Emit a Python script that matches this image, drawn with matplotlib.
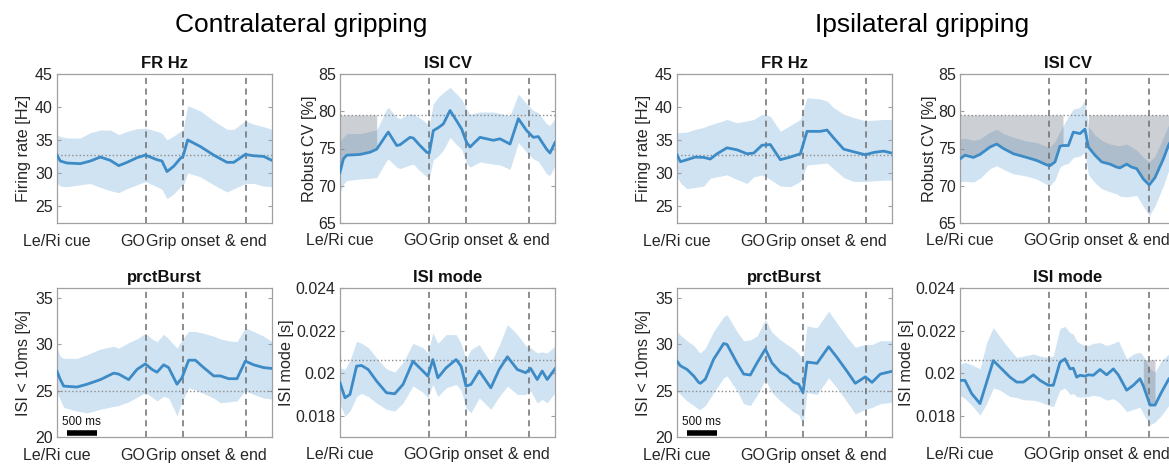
import numpy as np
import matplotlib
matplotlib.use('Agg')
import matplotlib.pyplot as plt

plt.rcParams['font.family'] = ['Liberation Sans', 'DejaVu Sans']

### EVENTS (ms) AND REFERENCE LEVELS
GO = 1475
GRIP = 2095
END = 3145
XMAX = 3580
event_labels = ['Le/Ri cue', 'GO', 'Grip onset', '& end']
ref_fr = 32.7
ref_cv = 79.5
ref_burst = 25.0
ref_mode = 0.02063

### CONTRALATERAL - FR Hz
fr_c_x = [0, 55, 167, 389, 555, 722, 888, 1027, 1166, 1332, 1471, 1665, 1748, 1832, 1943, 2054, 2098,
          2176, 2387, 2609, 2831, 2942, 3136, 3275, 3441, 3580]
fr_c_mean = [32.7, 31.8, 31.5, 31.4, 31.8, 32.4, 31.9, 31.1, 31.6, 32.3, 32.7, 32.0, 31.8, 30.2, 31.0, 32.2,
             32.5, 35.0, 34.0, 32.7, 31.6, 31.6, 32.8, 32.6, 32.5, 31.9]
fr_c_hi = [35.8, 35.5, 35.3, 35.3, 36.1, 36.5, 36.5, 35.8, 36.3, 36.7, 36.8, 36.3, 36.0, 35.0, 35.6, 36.3,
           36.5, 40.2, 39.4, 37.9, 36.6, 36.6, 37.9, 37.4, 37.0, 36.6]
fr_c_lo = [28.4, 28.0, 27.9, 28.2, 28.4, 27.8, 27.3, 27.0, 27.6, 28.2, 28.7, 27.9, 27.5, 26.1, 26.8, 27.9,
           28.0, 30.0, 29.4, 28.2, 27.1, 27.6, 28.4, 28.4, 28.0, 27.9]

### CONTRALATERAL - ISI CV
cv_c_x = [0, 56, 111, 333, 500, 611, 777, 805, 944, 999, 1166, 1221, 1332, 1443, 1487, 1554, 1637, 1721,
          1832, 1943, 2026, 2109, 2165, 2331, 2553, 2664, 2831, 2970, 3108, 3219, 3302, 3441, 3497, 3580]
cv_c_mean = [71.8, 73.6, 74.1, 74.2, 74.5, 74.9, 76.9, 77.2, 75.4, 75.5, 76.5, 76.4, 75.4, 74.5, 74.4, 77.4,
             77.8, 78.3, 80.1, 78.7, 77.6, 75.8, 75.2, 76.5, 76.1, 76.3, 75.6, 79.0, 77.4, 76.5, 76.6, 74.9,
             74.4, 75.8]
cv_c_hi = [76.0, 76.5, 77.0, 77.0, 77.3, 77.5, 80.3, 80.5, 79.2, 79.0, 79.7, 79.6, 79.1, 78.4, 78.2, 81.0,
           81.9, 82.5, 83.2, 82.3, 81.6, 80.3, 79.6, 79.9, 79.9, 79.7, 79.4, 82.3, 81.0, 80.1, 79.8, 78.3,
           78.1, 79.0]
cv_c_lo = [69.1, 70.2, 70.7, 70.9, 71.0, 71.1, 73.4, 73.6, 72.5, 72.3, 72.8, 72.9, 72.0, 71.2, 71.1, 73.5,
           74.0, 74.8, 76.5, 75.5, 74.9, 73.0, 72.5, 73.2, 72.9, 72.8, 72.2, 75.8, 74.5, 73.6, 73.3, 71.6,
           71.4, 72.7]
cv_c_sig = [(0, 611)]

### CONTRALATERAL - prctBurst
bu_c_x = [0, 56, 111, 333, 500, 722, 944, 1027, 1193, 1332, 1471, 1582, 1665, 1776, 1859, 1998, 2081, 2192,
          2303, 2442, 2609, 2720, 2858, 2997, 3136, 3275, 3441, 3580]
bu_c_mean = [27.1, 26.2, 25.5, 25.4, 25.7, 26.2, 26.9, 26.8, 26.2, 27.3, 27.9, 27.3, 27.0, 27.8, 27.5, 25.7,
             26.4, 28.3, 28.3, 27.5, 26.6, 26.6, 26.3, 26.3, 28.2, 27.8, 27.5, 27.4]
bu_c_hi = [29.6, 28.7, 28.5, 28.5, 28.9, 29.5, 29.8, 29.6, 30.2, 30.6, 31.2, 30.6, 30.3, 31.1, 30.6, 29.6,
           30.5, 31.4, 31.4, 31.2, 30.9, 30.6, 30.4, 30.3, 31.8, 31.4, 30.9, 30.3]
bu_c_lo = [24.8, 24.0, 23.2, 22.8, 22.6, 23.0, 23.3, 23.4, 23.8, 24.3, 24.8, 24.3, 23.9, 24.4, 24.2, 22.3,
           23.8, 25.3, 25.1, 24.7, 24.2, 23.7, 23.8, 23.9, 25.0, 24.6, 24.2, 24.1]

### CONTRALATERAL - ISI mode
mo_c_x = [0, 83, 166, 276, 359, 470, 608, 773, 911, 1049, 1215, 1380, 1463, 1546, 1629, 1767, 1933, 2016,
          2098, 2181, 2319, 2512, 2650, 2788, 2953, 3091, 3174, 3284, 3367, 3450, 3580]
mo_c_mean = [0.01955, 0.01884, 0.0190, 0.02033, 0.02036, 0.02017, 0.01963, 0.01908, 0.01903, 0.01947,
             0.02056, 0.0201, 0.01986, 0.02064, 0.01978, 0.02025, 0.02064, 0.02033, 0.01939, 0.01947, 0.0201,
             0.01931, 0.02017, 0.02077, 0.02017, 0.02002, 0.02022, 0.0197, 0.0201, 0.0197, 0.0202]
mo_c_hi = [0.02025, 0.02017, 0.0206, 0.0215, 0.0214, 0.0212, 0.02072, 0.0202, 0.02005, 0.0205, 0.0214,
           0.0212, 0.02095, 0.0219, 0.0214, 0.02181, 0.02181, 0.0214, 0.02064, 0.02111, 0.02134, 0.02048,
           0.0213, 0.02228, 0.02181, 0.0213, 0.02119, 0.02095, 0.021, 0.02095, 0.02127]
mo_c_lo = [0.01853, 0.01798, 0.01822, 0.0189, 0.01905, 0.0189, 0.0186, 0.0183, 0.01822, 0.0186, 0.0194,
           0.0191, 0.01884, 0.01947, 0.0189, 0.01931, 0.01947, 0.0192, 0.01837, 0.01814, 0.01884, 0.0183,
           0.0189, 0.01939, 0.019, 0.019, 0.01916, 0.0186, 0.01877, 0.0186, 0.01908]

### IPSILATERAL - FR Hz
fr_i_x = [0, 56, 167, 305, 444, 555, 666, 833, 999, 1166, 1277, 1415, 1554, 1721, 1887, 2054, 2165, 2387,
          2498, 2609, 2775, 2942, 3136, 3275, 3441, 3580]
fr_i_mean = [32.75, 31.7, 32.0, 32.4, 32.35, 32.1, 32.9, 33.8, 33.5, 32.9, 33.0, 34.2, 34.3, 32.0, 32.4,
             32.9, 36.3, 36.3, 36.5, 35.3, 33.6, 33.2, 32.75, 33.1, 33.3, 33.0]
fr_i_hi = [36.1, 36.1, 36.2, 36.6, 36.9, 37.3, 37.6, 38.1, 37.6, 37.9, 38.1, 38.9, 38.6, 36.3, 37.2, 38.1,
           41.4, 41.2, 40.9, 39.9, 38.9, 38.4, 37.9, 38.0, 38.1, 38.1]
fr_i_lo = [29.4, 28.5, 27.6, 27.8, 28.0, 29.2, 29.4, 29.7, 29.0, 28.4, 29.4, 29.7, 29.0, 28.0, 27.9, 28.7,
           31.2, 31.4, 31.5, 30.6, 29.3, 28.7, 28.7, 28.8, 28.9, 28.9]

### IPSILATERAL - ISI CV
cv_i_x = [0, 83, 222, 333, 500, 611, 722, 888, 1110, 1277, 1443, 1499, 1582, 1665, 1715, 1804, 1887, 1998,
          2081, 2137, 2248, 2359, 2498, 2609, 2664, 2775, 2858, 2942, 3053, 3152, 3247, 3386, 3480, 3580]
cv_i_mean = [73.6, 74.1, 73.8, 74.2, 75.2, 75.6, 75.0, 74.3, 73.8, 73.4, 72.8, 72.7, 73.2, 75.3, 75.4, 75.4,
             77.2, 77.0, 77.6, 75.2, 74.1, 73.2, 72.9, 72.5, 72.4, 72.9, 72.5, 72.3, 70.9, 70.1, 71.1, 73.6,
             75.6, 76.7]
cv_i_hi = [76.3, 76.4, 76.1, 76.3, 77.2, 77.6, 77.0, 76.5, 76.0, 75.8, 75.3, 75.2, 76.0, 77.3, 78.0, 79.3,
           80.3, 80.5, 81.5, 78.0, 76.8, 76.1, 75.6, 75.4, 75.4, 75.6, 75.2, 74.8, 73.8, 73.2, 74.0, 76.5,
           78.3, 79.9]
cv_i_lo = [70.5, 70.6, 70.5, 71.0, 72.3, 72.7, 72.2, 71.6, 71.3, 70.9, 70.2, 70.0, 70.8, 72.5, 72.8, 73.0,
           73.8, 74.0, 74.5, 71.5, 70.4, 69.6, 69.2, 68.9, 68.6, 68.5, 68.6, 68.7, 67.2, 66.0, 67.3, 70.0,
           72.2, 73.6]
cv_i_sig = [(0, 1715), (2137, 3580)]

### IPSILATERAL - prctBurst
bu_i_x = [0, 56, 167, 278, 361, 389, 472, 610, 777, 833, 999, 1110, 1221, 1332, 1471, 1582, 1721, 1832,
          1943, 2026, 2098, 2165, 2331, 2525, 2664, 2831, 2969, 3136, 3247, 3386, 3580]
bu_i_mean = [28.2, 27.7, 27.3, 26.6, 25.9, 25.8, 26.25, 28.4, 30.1, 30.0, 28.0, 26.8, 26.7, 28.0, 29.5, 28.0,
             27.0, 26.6, 25.9, 25.7, 24.8, 28.1, 27.96, 29.75, 28.6, 27.1, 25.8, 26.5, 25.9, 26.8, 27.1]
bu_i_hi = [31.4, 31.0, 30.4, 29.9, 29.2, 29.1, 29.6, 31.4, 33.0, 33.2, 31.4, 30.4, 30.5, 30.9, 32.7, 31.3,
           30.5, 30.0, 29.5, 29.0, 28.4, 32.0, 31.8, 33.6, 32.3, 30.8, 29.7, 30.0, 30.0, 30.4, 30.4]
bu_i_lo = [25.0, 24.6, 23.9, 23.4, 23.0, 23.0, 23.4, 24.8, 26.4, 26.6, 25.0, 23.6, 23.4, 24.5, 26.2, 24.8,
           23.9, 23.3, 22.7, 22.4, 21.4, 24.8, 24.6, 26.4, 25.3, 23.8, 22.5, 23.0, 23.2, 23.6, 23.75]

### IPSILATERAL - ISI mode
mo_i_x = [0, 83, 194, 333, 444, 555, 666, 833, 944, 1055, 1221, 1332, 1471, 1554, 1665, 1748, 1832, 1887,
          1943, 1998, 2081, 2137, 2220, 2331, 2442, 2553, 2636, 2775, 2886, 2997, 3053, 3164, 3247, 3358,
          3480, 3580]
mo_i_mean = [0.01966, 0.01966, 0.01904, 0.01857, 0.01958, 0.02059, 0.02028, 0.01981, 0.01958, 0.01958,
             0.01992, 0.01966, 0.01943, 0.01943, 0.02051, 0.02067, 0.0202, 0.02023, 0.01981, 0.0199, 0.01986,
             0.01992, 0.0199, 0.02017, 0.01992, 0.0202, 0.01992, 0.0192, 0.01943, 0.01974, 0.0194, 0.0185,
             0.0185, 0.01912, 0.01974, 0.0199]
mo_i_hi = [0.02043, 0.0205, 0.0204, 0.0202, 0.02144, 0.02214, 0.0217, 0.0211, 0.02074, 0.0208, 0.0209,
           0.0208, 0.02074, 0.02082, 0.0221, 0.0222, 0.0219, 0.02183, 0.0215, 0.0214, 0.0213, 0.0213, 0.0214,
           0.02144, 0.0213, 0.0214, 0.02152, 0.02067, 0.0209, 0.02098, 0.0208, 0.0202, 0.02005, 0.0206,
           0.0209, 0.02113]
mo_i_lo = [0.01896, 0.0188, 0.0185, 0.01803, 0.01857, 0.0193, 0.0192, 0.0189, 0.01885, 0.01875, 0.01873,
           0.01865, 0.0185, 0.01842, 0.0192, 0.0193, 0.0190, 0.01904, 0.0189, 0.01888, 0.01888, 0.0189,
           0.01896, 0.0189, 0.01873, 0.0188, 0.01865, 0.0182, 0.0183, 0.0184, 0.0181, 0.01757, 0.0177,
           0.01803, 0.0185, 0.01865]
mo_i_sig = [(3050, 3250)]

LINE = '#3d8bc6'
BAND = '#cfe3f3'
W, H = 1169, 466


def rect(left, top, w=215, h=149):
    return [left / W, (H - top - h) / H, w / W, h / H]


def panel(pos, x, mean, lo, hi, ref, title, ylabel, ylim, yticks, ytl, sig=(), xpad=7, lpad=3):
    ax = fig.add_axes(rect(*pos))
    x = np.array(x)
    mean = np.array(mean)
    ax.fill_between(x, lo, hi, color=BAND, lw=0, zorder=1)
    for a, b in sig:
        m = (x >= a) & (x <= b)
        ax.fill_between(x, mean, ref, where=m, color='#6f7885', alpha=0.35, lw=0, zorder=2)
    ax.axhline(ref, color='#8c8c8c', lw=1.0, ls=':', zorder=3)
    for ev in [GO, GRIP, END]:
        ax.axvline(ev, color='#6e6e6e', lw=1.1, ls=(0, (4, 3)), zorder=3)
    ax.plot(x, mean, color=LINE, lw=2.0, zorder=4)
    ax.set_xlim(0, XMAX)
    ax.set_ylim(*ylim)
    ax.set_yticks(yticks)
    ax.set_yticklabels(ytl)
    ax.set_xticks([0, GO, GRIP, END])
    ax.set_xticklabels(event_labels)
    ax.get_xticklabels()[1].set_ha('right')
    ax.tick_params(axis='x', length=0, pad=xpad, labelsize=11.5, colors='#262626')
    ax.tick_params(axis='y', direction='in', length=3, right=True, labelsize=11.5,
                   colors='#262626', pad=3)
    ax.tick_params(axis='y', which='both', color='#a0a0a0')
    for s in ax.spines.values():
        s.set_color('#a0a0a0')
        s.set_linewidth(0.9)
    ax.set_title(title, fontsize=12, fontweight='bold', pad=4, color='#111111')
    ax.set_ylabel(ylabel, fontsize=11.7, labelpad=lpad, color='#262626')
    return ax


def scalebar(ax):
    ax.plot([161, 661], [20.45, 20.45], color='black', lw=4, solid_capstyle='butt', zorder=5)
    ax.text(83, 21.0, '500 ms', fontsize=8.5, ha='left', va='bottom', color='#111111')


fig = plt.figure(figsize=(W / 100, H / 100), dpi=100)

groups = [
    (0, fr_c_x, fr_c_mean, fr_c_lo, fr_c_hi, cv_c_x, cv_c_mean, cv_c_lo, cv_c_hi, cv_c_sig,
     bu_c_x, bu_c_mean, bu_c_lo, bu_c_hi, mo_c_x, mo_c_mean, mo_c_lo, mo_c_hi, []),
    (620, fr_i_x, fr_i_mean, fr_i_lo, fr_i_hi, cv_i_x, cv_i_mean, cv_i_lo, cv_i_hi, cv_i_sig,
     bu_i_x, bu_i_mean, bu_i_lo, bu_i_hi, mo_i_x, mo_i_mean, mo_i_lo, mo_i_hi, mo_i_sig),
]

for g in groups:
    off = g[0]
    panel((57 + off, 74), g[1], g[2], g[3], g[4], ref_fr, 'FR Hz', 'Firing rate [Hz]',
          (22.4, 45), [25, 30, 35, 40, 45], ['25', '30', '35', '40', '45'], xpad=8)
    panel((340 + off, 74), g[5], g[6], g[7], g[8], ref_cv, 'ISI CV', 'Robust CV [%]',
          (65, 85), [65, 70, 75, 80, 85], ['65', '70', '75', '80', '85'], sig=g[9], xpad=7, lpad=1)
    ax = panel((57 + off, 288), g[10], g[11], g[12], g[13], ref_burst, 'prctBurst', 'ISI < 10ms [%]',
               (20, 36.1), [20, 25, 30, 35], ['20', '25', '30', '35'], xpad=8)
    scalebar(ax)
    panel((340 + off, 288), g[14], g[15], g[16], g[17], ref_mode, 'ISI mode', 'ISI mode [s]',
          (0.017, 0.024), [0.018, 0.02, 0.022, 0.024], ['0.018', '0.02', '0.022', '0.024'],
          sig=g[18], xpad=7, lpad=1)

fig.text(301 / W, (H - 32) / H, 'Contralateral gripping', fontsize=19, ha='center', va='baseline')
fig.text(922 / W, (H - 32) / H, 'Ipsilateral gripping', fontsize=19, ha='center', va='baseline')

fig.savefig('out.png', dpi=100)
